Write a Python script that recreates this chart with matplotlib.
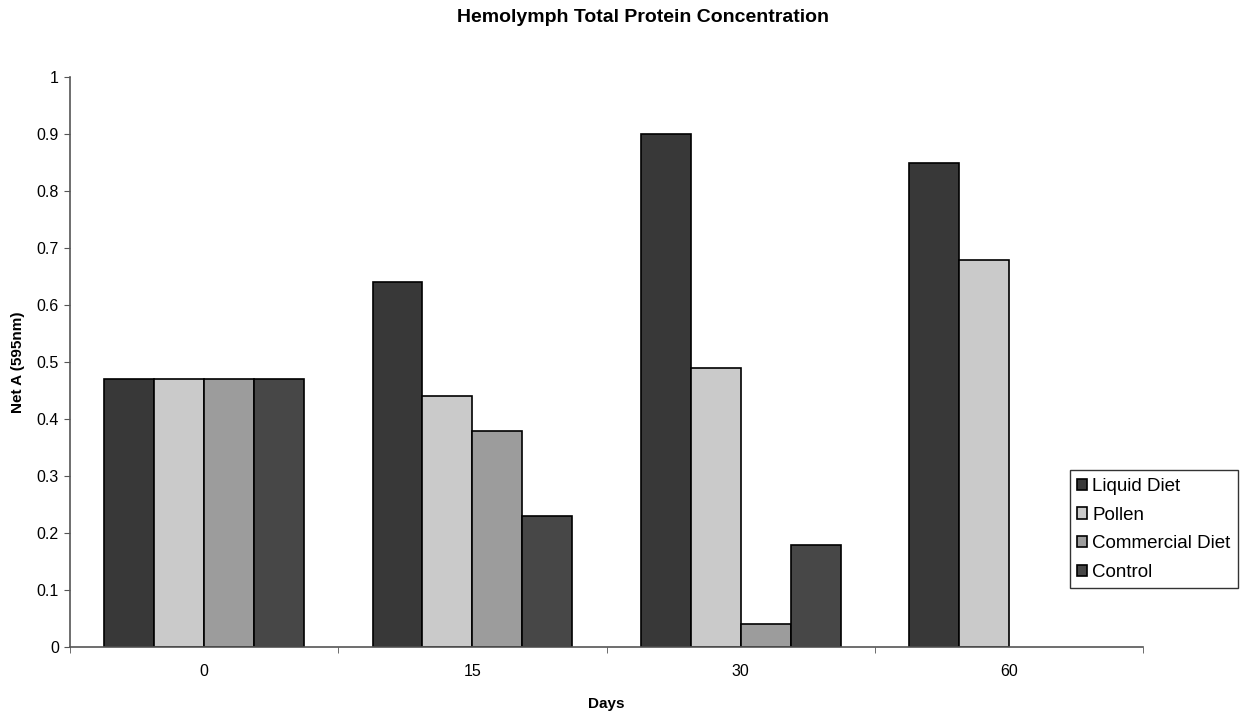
import matplotlib
matplotlib.use("Agg")
import matplotlib.pyplot as plt
import numpy as np

plt.rcParams['font.family'] = ['Liberation Sans', 'DejaVu Sans']

days = ["0", "15", "30", "60"]
series = ["Liquid Diet", "Pollen", "Commercial Diet", "Control"]
liquid_diet = [0.47, 0.64, 0.90, 0.85]
pollen = [0.47, 0.44, 0.49, 0.68]
commercial_diet = [0.47, 0.38, 0.04, 0.0]
control = [0.47, 0.23, 0.18, 0.0]

colors = ["#383838", "#cacaca", "#9c9c9c", "#474747"]
values = [liquid_diet, pollen, commercial_diet, control]

fig = plt.figure(figsize=(12.48, 7.15), dpi=100)
ax = fig.add_axes([0.056, 0.095, 0.86, 0.797])

x = np.arange(len(days))
width = 0.186
for i, (name, vals) in enumerate(zip(series, values)):
    offs = (i - 1.5) * width
    v = np.array(vals)
    mask = v > 0
    ax.bar(x[mask] + offs, v[mask], width, color=colors[i], edgecolor="black",
           linewidth=1.2, label=name)

ax.set_xlim(-0.5, 3.5)
ax.set_ylim(0, 1)
ax.set_yticks(np.arange(0, 1.01, 0.1))
ax.set_yticklabels(["0", "0.1", "0.2", "0.3", "0.4", "0.5", "0.6", "0.7", "0.8", "0.9", "1"])
ax.set_xticks(x)
ax.set_xticklabels(days)
ax.set_xticks(np.arange(-0.5, 3.6, 1), minor=True)
ax.tick_params(axis="x", which="major", length=0, pad=12, labelsize=11.5)
ax.tick_params(axis="x", which="minor", length=4, direction="out", color="#555555")
ax.tick_params(axis="y", length=4, color="#555555", labelsize=11.5, pad=4)

for s in ["top", "right"]:
    ax.spines[s].set_visible(False)
for s in ["left", "bottom"]:
    ax.spines[s].set_color("#555555")
    ax.spines[s].set_linewidth(1.2)

ax.set_xlabel("Days", fontsize=11, fontweight="bold", labelpad=13)
ax.set_ylabel("Net A (595nm)", fontsize=11, fontweight="bold", labelpad=8)
fig.suptitle("Hemolymph Total Protein Concentration", fontsize=14, fontweight="bold",
             x=0.515, y=0.988)

leg = ax.legend(loc="upper left", bbox_to_anchor=(0.857, 0.342), bbox_transform=fig.transFigure,
                fontsize=13.5, frameon=True, fancybox=False, edgecolor="black",
                handlelength=0.55, handleheight=0.55, handletextpad=0.25, labelspacing=0.62,
                borderpad=0.4, borderaxespad=0)
leg.get_frame().set_linewidth(1.0)

fig.savefig("out.png", dpi=100)
